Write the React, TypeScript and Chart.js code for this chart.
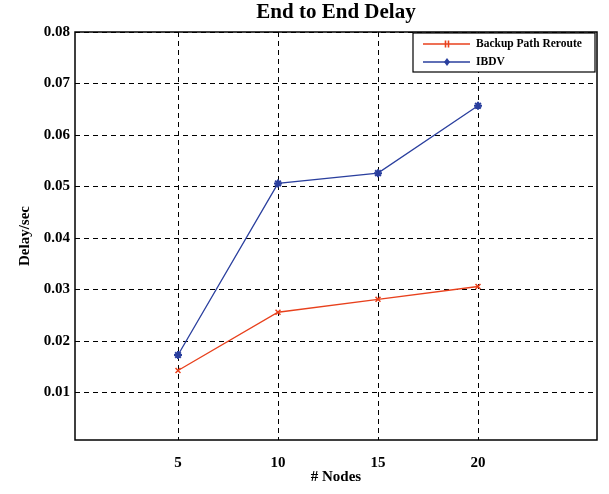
import { useEffect, useRef } from "react";
import { Chart, registerables } from "chart.js";

Chart.register(...registerables);

const nodes = [5, 10, 15, 20];
const backupValues = [0.0143, 0.0256, 0.0281, 0.0306];
const ibdvValues = [0.0173, 0.0506, 0.0526, 0.0657];
const seriesLabels = ["Backup Path Reroute", "IBDV"];
const xTickValues = [5, 10, 15, 20];
const yTickValues = [0.01, 0.02, 0.03, 0.04, 0.05, 0.06, 0.07, 0.08];
const titleText = "End to End Delay";
const xTitle = "# Nodes";
const yTitle = "Delay/sec";

const RED = "#e8401c";
const BLUE = "#2a3f9e";
const FONT = "'Liberation Serif', 'Times New Roman', serif";

const framePlugin = {
  id: "frame",
  afterDraw(chart: any) {
    const { ctx, chartArea } = chart;
    const { left, top, right, bottom } = chartArea;
    ctx.save();
    ctx.strokeStyle = "#000";
    ctx.lineWidth = 1.5;
    ctx.setLineDash([]);
    ctx.strokeRect(left, top, right - left, bottom - top);

    // title centered over the plot area
    ctx.fillStyle = "#000";
    ctx.font = `bold 21px ${FONT}`;
    ctx.textAlign = "center";
    ctx.textBaseline = "middle";
    ctx.fillText(titleText, (left + right) / 2, 13);

    // legend box
    const lx = 413;
    const ly = top + 1;
    const lw = right - 2 - lx;
    const lh = 39;
    ctx.fillStyle = "#fff";
    ctx.fillRect(lx, ly, lw, lh);
    ctx.lineWidth = 1.2;
    ctx.strokeStyle = "#000";
    ctx.strokeRect(lx, ly, lw, lh);

    const entries = [
      { label: seriesLabels[0], color: RED, y: ly + 11, marker: "cross" },
      { label: seriesLabels[1], color: BLUE, y: ly + 29, marker: "star" },
    ];
    for (const e of entries) {
      ctx.strokeStyle = e.color;
      ctx.lineWidth = 1.3;
      ctx.beginPath();
      ctx.moveTo(lx + 10, e.y);
      ctx.lineTo(lx + 57, e.y);
      ctx.stroke();
      const mx = lx + 34;
      ctx.lineWidth = 1.6;
      ctx.beginPath();
      if (e.marker === "cross") {
        ctx.moveTo(mx - 1.5, e.y - 3.5);
        ctx.lineTo(mx - 1.5, e.y + 3.5);
        ctx.moveTo(mx + 1.5, e.y - 3.5);
        ctx.lineTo(mx + 1.5, e.y + 3.5);
        ctx.stroke();
      } else {
        ctx.fillStyle = e.color;
        ctx.moveTo(mx, e.y - 4);
        ctx.lineTo(mx + 3, e.y);
        ctx.lineTo(mx, e.y + 4);
        ctx.lineTo(mx - 3, e.y);
        ctx.closePath();
        ctx.fill();
      }
      ctx.fillStyle = "#000";
      ctx.font = `bold 11.5px ${FONT}`;
      ctx.textAlign = "left";
      ctx.textBaseline = "middle";
      ctx.fillText(e.label, lx + 63, e.y + 0.5);
    }
    ctx.restore();
  },
};

export default function App() {
  const ref = useRef<HTMLCanvasElement | null>(null);

  useEffect(() => {
    document.body.style.margin = "0";
    const canvas = ref.current;
    if (!canvas) return;
    const tickFont = { family: FONT, size: 15, weight: "bold" as const };
    const chart = new Chart(canvas, {
      type: "line",
      data: {
        datasets: [
          {
            label: seriesLabels[0],
            data: nodes.map((x, i) => ({ x, y: backupValues[i] })),
            borderColor: RED,
            backgroundColor: RED,
            borderWidth: 1.3,
            pointStyle: "crossRot",
            pointRadius: 3.5,
            pointBorderWidth: 1.5,
            tension: 0,
          },
          {
            label: seriesLabels[1],
            data: nodes.map((x, i) => ({ x, y: ibdvValues[i] })),
            borderColor: BLUE,
            backgroundColor: BLUE,
            borderWidth: 1.3,
            pointStyle: "star",
            pointRadius: 4,
            pointBorderWidth: 2,
            tension: 0,
          },
        ],
      },
      options: {
        responsive: false,
        animation: false,
        layout: { padding: { left: 0, right: 12, top: 32, bottom: 0 } },
        plugins: {
          legend: { display: false },
          tooltip: { enabled: false },
          title: { display: false },
        },
        scales: {
          x: {
            type: "linear",
            min: -0.15,
            max: 25.95,
            afterBuildTicks: (scale: any) => {
              scale.ticks = xTickValues.map((v) => ({ value: v }));
            },
            afterFit: (scale: any) => {
              scale.height = 54;
            },
            ticks: {
              color: "#000",
              font: tickFont,
              padding: 14,
              maxRotation: 0,
              callback: (v: any) => String(v),
            },
            grid: {
              color: "#000",
              lineWidth: 1,
              drawTicks: false,
            },
            border: { display: false, dash: [5, 4] },
            title: {
              display: true,
              text: xTitle,
              color: "#000",
              font: tickFont,
              padding: { top: 0, bottom: 8 },
            },
          },
          y: {
            type: "linear",
            min: 0.0008,
            max: 0.08,
            afterBuildTicks: (scale: any) => {
              scale.ticks = yTickValues.map((v) => ({ value: v }));
            },
            afterFit: (scale: any) => {
              scale.width = 75;
            },
            ticks: {
              color: "#000",
              font: tickFont,
              padding: 5,
              callback: (v: any) => Number(v).toFixed(2),
            },
            grid: {
              color: "#000",
              lineWidth: 1,
              drawTicks: false,
            },
            border: { display: false, dash: [5, 4] },
            title: {
              display: true,
              text: yTitle,
              color: "#000",
              font: tickFont,
              padding: { top: 16, bottom: 0 },
            },
          },
        },
      },
      plugins: [framePlugin],
    });
    return () => chart.destroy();
  }, []);

  return <canvas ref={ref} width={609} height={494} style={{ display: "block" }} />;
}
